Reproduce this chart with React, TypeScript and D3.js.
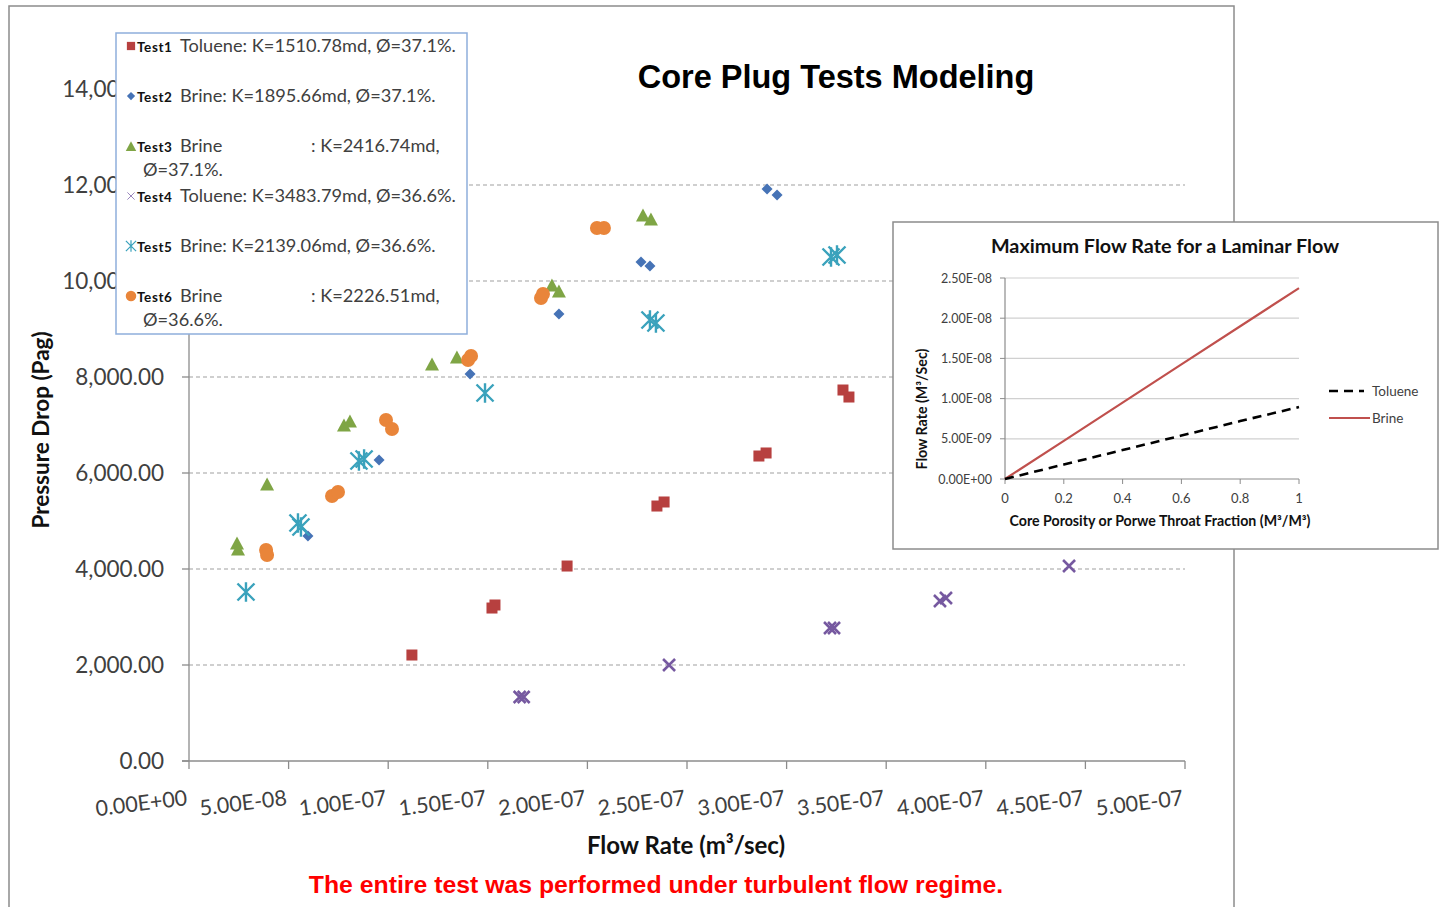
import React from 'react'
import * as d3 from 'd3'

// ---- main chart data (flow rate m3/sec, pressure drop Pag) ----
const test1: [number, number][] = [
  [1.119e-7, 2208], [1.521e-7, 3187], [1.536e-7, 3250], [1.898e-7, 4062], [2.349e-7, 5312],
  [2.385e-7, 5396], [2.861e-7, 6354], [2.897e-7, 6417], [3.283e-7, 7729], [3.313e-7, 7583],
]
const test2: [number, number][] = [
  [5.97e-8, 4688], [9.54e-8, 6271], [1.411e-7, 8063], [1.857e-7, 9313], [2.269e-7, 10396],
  [2.314e-7, 10313], [2.902e-7, 11917], [2.952e-7, 11792],
]
const test3: [number, number][] = [
  [2.41e-8, 4542], [2.46e-8, 4417], [3.92e-8, 5771], [7.78e-8, 7000], [8.08e-8, 7083],
  [1.22e-7, 8271], [1.345e-7, 8417], [1.822e-7, 9917], [1.857e-7, 9792], [2.279e-7, 11375], [2.319e-7, 11292],
]
const test4: [number, number][] = [
  [1.66e-7, 1333], [1.68e-7, 1333], [2.41e-7, 2000], [3.218e-7, 2771], [3.238e-7, 2771],
  [3.77e-7, 3333], [3.8e-7, 3396], [4.418e-7, 4062],
]
const test5: [number, number][] = [
  [2.86e-8, 3521], [5.47e-8, 4958], [5.62e-8, 4875], [8.53e-8, 6250], [8.79e-8, 6292],
  [1.486e-7, 7667], [2.314e-7, 9188], [2.344e-7, 9125], [3.223e-7, 10500], [3.253e-7, 10542],
]
const test6: [number, number][] = [
  [3.87e-8, 4396], [3.92e-8, 4292], [7.18e-8, 5521], [7.48e-8, 5604], [9.89e-8, 7104], [1.019e-7, 6917],
  [1.401e-7, 8354], [1.416e-7, 8438], [1.767e-7, 9646], [1.777e-7, 9729], [2.048e-7, 11104], [2.083e-7, 11104],
]

const xTicks = [0, 5e-8, 1e-7, 1.5e-7, 2e-7, 2.5e-7, 3e-7, 3.5e-7, 4e-7, 4.5e-7, 5e-7]
const xTickLabels = ['0.00E+00', '5.00E-08', '1.00E-07', '1.50E-07', '2.00E-07', '2.50E-07', '3.00E-07', '3.50E-07', '4.00E-07', '4.50E-07', '5.00E-07']
const yTicks = [0, 2000, 4000, 6000, 8000, 10000, 12000, 14000]
const yTickLabels = ['0.00', '2,000.00', '4,000.00', '6,000.00', '8,000.00', '10,000.00', '12,000.00', '14,000.00']

// ---- inset data ----
const insetX = [0, 0.2, 0.4, 0.6, 0.8, 1]
const toluene = [0, 1.8e-9, 3.6e-9, 5.4e-9, 7.2e-9, 8.95e-9]
const brine = [0, 4.75e-9, 9.5e-9, 1.425e-8, 1.9e-8, 2.375e-8]
const insetYTicks = [0, 5e-9, 1e-8, 1.5e-8, 2e-8, 2.5e-8]
const insetYLabels = ['0.00E+00', '5.00E-09', '1.00E-08', '1.50E-08', '2.00E-08', '2.50E-08']
const insetXLabels = ['0', '0.2', '0.4', '0.6', '0.8', '1']

type Kind = 'square' | 'diamond' | 'triangle' | 'x' | 'star' | 'circle'

const series = [
  { name: 'Test1', data: test1, kind: 'square' as Kind, color: '#B7403F' },
  { name: 'Test2', data: test2, kind: 'diamond' as Kind, color: '#4673B6' },
  { name: 'Test3', data: test3, kind: 'triangle' as Kind, color: '#7FA545' },
  { name: 'Test4', data: test4, kind: 'x' as Kind, color: '#7659A0' },
  { name: 'Test5', data: test5, kind: 'star' as Kind, color: '#3AA2BC' },
  { name: 'Test6', data: test6, kind: 'circle' as Kind, color: '#E9853A' },
]

const CAL = 'Lato, "Open Sans", sans-serif'
const ARIAL = '"Liberation Sans", Arial, sans-serif'

function Marker({ kind, cx, cy, color, s = 1 }: { kind: Kind; cx: number; cy: number; color: string; s?: number }) {
  if (kind === 'square') {
    const h = 5.5 * s
    return <rect x={cx - h} y={cy - h} width={2 * h} height={2 * h} fill={color} />
  }
  if (kind === 'diamond') {
    const h = 5.5 * s
    return <path d={`M${cx},${cy - h}L${cx + h},${cy}L${cx},${cy + h}L${cx - h},${cy}Z`} fill={color} />
  }
  if (kind === 'triangle') {
    const w = 7 * s, h = 6.5 * s
    return <path d={`M${cx},${cy - h}L${cx + w},${cy + h}L${cx - w},${cy + h}Z`} fill={color} />
  }
  if (kind === 'circle') {
    return <circle cx={cx} cy={cy} r={7 * s} fill={color} />
  }
  if (kind === 'x') {
    const h = 6 * s
    return (
      <path d={`M${cx - h},${cy - h}L${cx + h},${cy + h}M${cx - h},${cy + h}L${cx + h},${cy - h}`}
        stroke={s < 1 ? '#9a86bd' : color} strokeWidth={s < 1 ? 1 : 2.6} fill="none" />
    )
  }
  const h = 8.5 * s
  return (
    <path d={`M${cx - h},${cy - h}L${cx + h},${cy + h}M${cx - h},${cy + h}L${cx + h},${cy - h}M${cx},${cy - h * 1.15}L${cx},${cy + h * 1.15}`}
      stroke={color} strokeWidth={s < 1 ? 1.2 : 2.4} fill="none" />
  )
}

export default function App() {
  const W = 1445, H = 907
  const x = d3.scaleLinear().domain([0, 5e-7]).range([189, 1185])
  const y = d3.scaleLinear().domain([0, 14000]).range([761, 89])

  const ix = d3.scaleLinear().domain([0, 1]).range([1005, 1299])
  const iy = d3.scaleLinear().domain([0, 2.5e-8]).range([479, 278])
  const line = d3.line<number>().x((_, i) => ix(insetX[i])).y(d => iy(d))

  const legendRows = [
    { y: 46, label: 'Toluene: K=1510.78md, Ø=37.1%.' },
    { y: 96, label: 'Brine: K=1895.66md, Ø=37.1%.' },
    { y: 146, label: 'Brine', extra: ': K=2416.74md,', cont: 'Ø=37.1%.' },
    { y: 196, label: 'Toluene: K=3483.79md, Ø=36.6%.' },
    { y: 246, label: 'Brine: K=2139.06md, Ø=36.6%.' },
    { y: 296, label: 'Brine', extra: ': K=2226.51md,', cont: 'Ø=36.6%.' },
  ]

  return (
    <svg width={W} height={H} style={{ position: 'absolute', left: 0, top: 0, background: '#fff' }}>
      <defs>
        {/* the legend box hides the right part of the upper y tick labels */}
        <clipPath id="underLegend">
          <rect x={0} y={0} width={116} height={340} />
          <rect x={0} y={334} width={189} height={460} />
        </clipPath>
      </defs>
      <rect x={0} y={0} width={W} height={H} fill="#fff" />
      {/* outer chart frame */}
      <rect x={9} y={6} width={1225} height={920} fill="#fff" stroke="#8c8c8c" strokeWidth={1.5} />

      {/* gridlines */}
      {yTicks.filter(t => t > 0 && t < 14000).map(t => (
        <line key={t} x1={189} x2={1185} y1={y(t)} y2={y(t)} stroke="#a0a0a0" strokeWidth={1.2} strokeDasharray="4,3" />
      ))}

      {/* axes */}
      <line x1={189} x2={189} y1={89} y2={761} stroke="#8c8c8c" strokeWidth={1.3} />
      <line x1={182} x2={1185} y1={761} y2={761} stroke="#8c8c8c" strokeWidth={1.3} />
      {yTicks.map(t => (
        <line key={'yt' + t} x1={182} x2={189} y1={y(t)} y2={y(t)} stroke="#8c8c8c" strokeWidth={1.3} />
      ))}
      {xTicks.map(t => (
        <line key={'xt' + t} x1={x(t)} x2={x(t)} y1={761} y2={769} stroke="#8c8c8c" strokeWidth={1.3} />
      ))}

      {/* tick labels */}
      <g clipPath="url(#underLegend)">
        {yTicks.map((t, i) => (
          <text key={'yl' + t} x={164} y={y(t) + 8} textAnchor="end" fontFamily={CAL} fontSize={22.5} fill="#404040">
            {yTickLabels[i]}
          </text>
        ))}
      </g>
      {xTicks.map((t, i) => (
        <text key={'xl' + t} transform={`translate(${x(t) - 1},805) rotate(-7)`} textAnchor="end"
          fontFamily={CAL} fontSize={21.5} fill="#404040">
          {xTickLabels[i]}
        </text>
      ))}

      {/* axis titles */}
      <text transform="translate(49,430) rotate(-90)" textAnchor="middle" fontFamily={CAL} fontWeight="bold" fontSize={22.5} fill="#111">
        Pressure Drop (Pag)
      </text>
      <text x={686} y={854} textAnchor="middle" fontFamily={CAL} fontWeight="bold" fontSize={24} fill="#111">
        Flow Rate (m³/sec)
      </text>
      <text x={656} y={893} textAnchor="middle" fontFamily={ARIAL} fontWeight="bold" fontSize={24.8} fill="#FF0000">
        The entire test was performed under turbulent flow  regime.
      </text>

      {/* title */}
      <text x={836} y={88} textAnchor="middle" fontFamily={ARIAL} fontWeight="bold" fontSize={32.5} fill="#000">
        Core Plug Tests Modeling
      </text>

      {/* points */}
      {series.map(s => (
        <g key={s.name}>
          {s.data.map((d, i) => (
            <Marker key={i} kind={s.kind} cx={x(d[0])} cy={y(d[1])} color={s.color} />
          ))}
        </g>
      ))}

      {/* legend */}
      <rect x={116} y={33} width={351} height={301} fill="#fff" stroke="#8eaedb" strokeWidth={1.5} />
      {series.map((s, i) => {
        const r = legendRows[i]
        return (
          <g key={'lg' + s.name}>
            <Marker kind={s.kind} cx={131} cy={r.y} color={s.color} s={s.kind === 'x' || s.kind === 'star' ? 0.6 : 0.75} />
            <text x={137} y={r.y + 6} fontFamily={CAL} fontWeight="bold" fontSize={13.5} letterSpacing={0.6} fill="#111">{s.name}</text>
            <text x={180} y={r.y + 6} fontFamily={CAL} fontSize={18.2} fill="#404040">{r.label}</text>
            {r.extra && <text x={311} y={r.y + 6} fontFamily={CAL} fontSize={18.2} fill="#404040">{r.extra}</text>}
            {r.cont && <text x={143} y={r.y + 30} fontFamily={CAL} fontSize={18.2} fill="#404040">{r.cont}</text>}
          </g>
        )
      })}

      {/* inset chart */}
      <rect x={893} y={222} width={545} height={327} fill="#fff" stroke="#8c8c8c" strokeWidth={1.5} />
      <text x={1165} y={253} textAnchor="middle" fontFamily={CAL} fontWeight="bold" fontSize={19.8} fill="#111">
        Maximum Flow Rate for a Laminar Flow
      </text>
      {insetYTicks.map((t, i) => (
        <g key={'iy' + t}>
          {t > 0 && <line x1={1005} x2={1299} y1={iy(t)} y2={iy(t)} stroke="#d0d0d0" strokeWidth={1.2} />}
          <line x1={1000} x2={1005} y1={iy(t)} y2={iy(t)} stroke="#8c8c8c" strokeWidth={1} />
          <text x={992} y={iy(t) + 4.5} textAnchor="end" fontFamily={CAL} fontSize={12.5} fill="#404040">{insetYLabels[i]}</text>
        </g>
      ))}
      <line x1={1005} x2={1005} y1={278} y2={479} stroke="#8c8c8c" strokeWidth={1.2} />
      <line x1={1005} x2={1299} y1={479} y2={479} stroke="#8c8c8c" strokeWidth={1.2} />
      {insetX.map((t, i) => (
        <g key={'ix' + t}>
          <line x1={ix(t)} x2={ix(t)} y1={479} y2={484} stroke="#8c8c8c" strokeWidth={1} />
          <text x={ix(t)} y={503} textAnchor="middle" fontFamily={CAL} fontSize={13} fill="#404040">{insetXLabels[i]}</text>
        </g>
      ))}
      <path d={line(brine) || ''} stroke="#C0504D" strokeWidth={2.2} fill="none" />
      <path d={line(toluene) || ''} stroke="#000" strokeWidth={2.6} strokeDasharray="9,6" fill="none" />
      <text transform="translate(927,409) rotate(-90)" textAnchor="middle" fontFamily={CAL} fontWeight="bold" fontSize={14.2} fill="#111">
        Flow Rate (M³/Sec)
      </text>
      <text x={1160} y={526} textAnchor="middle" fontFamily={CAL} fontWeight="bold" fontSize={14.2} fill="#111">
        Core Porosity or Porwe Throat Fraction (M³/M³)
      </text>
      <line x1={1329} x2={1364} y1={391} y2={391} stroke="#000" strokeWidth={2.6} strokeDasharray="9,6" />
      <text x={1372} y={395.5} fontFamily={CAL} fontSize={13.5} fill="#404040">Toluene</text>
      <line x1={1329} x2={1370} y1={418} y2={418} stroke="#C0504D" strokeWidth={2.2} />
      <text x={1372} y={423} fontFamily={CAL} fontSize={13.5} fill="#404040">Brine</text>
    </svg>
  )
}
